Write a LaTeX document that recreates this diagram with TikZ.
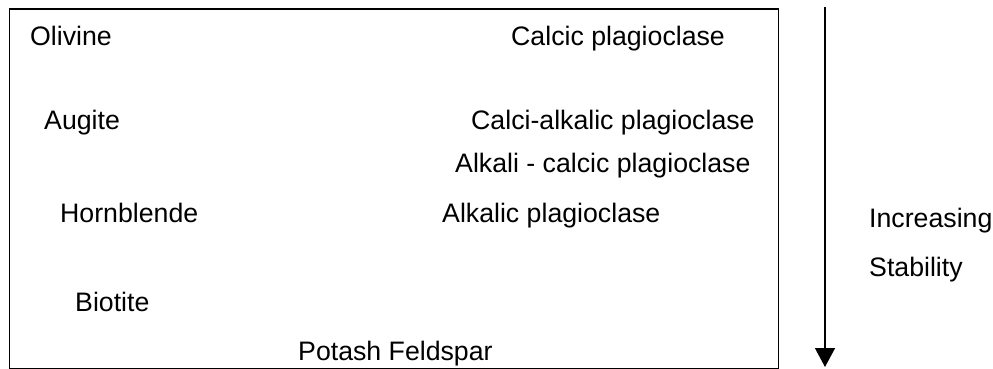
\documentclass[tikz,border=0pt]{standalone}
\usepackage{fontspec}
\setmainfont{Liberation Sans}
\usetikzlibrary{arrows.meta, positioning}

\begin{document}
\begin{tikzpicture}[x=1pt, y=-1pt,
    mineral/.style={anchor=base west, inner sep=0pt, font=\fontsize{26.7}{32}\selectfont},
    frame/.style={draw, line width=1.3pt, anchor=north west, inner sep=0pt}]
    \useasboundingbox (0,0) rectangle (993,369);
    \node[frame, minimum width=769pt, minimum height=359pt] (box) at (8.5,8.5) {};

    % left column
    \node[mineral] (oli) at (30,46) {Olivine};
    \node[mineral] (aug) at (44,129) {Augite};
    \node[mineral] (hbl) at (60,222) {Hornblende};
    \node[mineral] (bio) at (75,311) {Biotite};
    % right column
    \node[mineral] (cpl) at (511,46) {Calcic plagioclase};
    \node[mineral] (capl) at (471,129) {Calci-alkalic plagioclase};
    \node[mineral] (acpl) at (455,172) {Alkali - calcic plagioclase};
    \node[mineral] (apl) at (442,222) {Alkalic plagioclase};
    \node[mineral] (kfs) at (298,360) {Potash Feldspar};

    % stability arrow
    \node[mineral] (inc) at (869,227) {Increasing};
    \node[mineral] (stab) at (869,276) {Stability};
    \coordinate (arrtop) at (825,7);
    \coordinate (arrtip) at (825,367);
    \draw[line width=1.4pt, -{Triangle[width=20pt, length=19pt]}] (arrtop) -- (arrtip);
\end{tikzpicture}
\end{document}
